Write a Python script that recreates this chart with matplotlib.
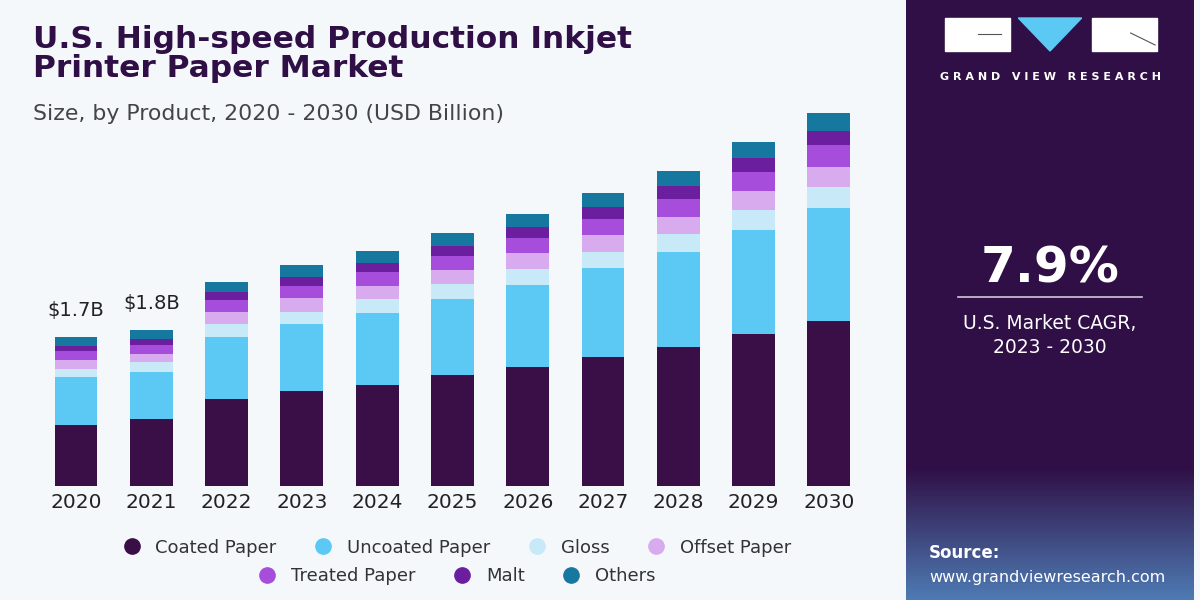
"""U.S. high-speed production inkjet printer paper market, stacked bars by product."""
import numpy as np
import matplotlib
matplotlib.use("Agg")
import matplotlib.pyplot as plt
from matplotlib.lines import Line2D
from matplotlib.patches import Rectangle, Polygon

YEARS = ["2020", "2021", "2022", "2023", "2024", "2025", "2026", "2027", "2028", "2029", "2030"]

# USD billion
COATED = [0.70, 0.76, 0.99, 1.08, 1.15, 1.27, 1.36, 1.47, 1.59, 1.74, 1.88]
UNCOATED = [0.54, 0.54, 0.71, 0.77, 0.82, 0.87, 0.94, 1.02, 1.08, 1.18, 1.29]
GLOSS = [0.10, 0.11, 0.15, 0.14, 0.16, 0.17, 0.18, 0.18, 0.21, 0.23, 0.24]
OFFSET = [0.10, 0.10, 0.14, 0.16, 0.15, 0.16, 0.18, 0.19, 0.19, 0.22, 0.23]
TREATED = [0.10, 0.10, 0.13, 0.13, 0.16, 0.16, 0.17, 0.19, 0.21, 0.22, 0.25]
MALT = [0.06, 0.07, 0.10, 0.11, 0.11, 0.11, 0.13, 0.14, 0.15, 0.16, 0.16]
OTHERS = [0.10, 0.10, 0.11, 0.13, 0.13, 0.15, 0.15, 0.16, 0.17, 0.18, 0.21]

SEGMENTS = [
    ("Coated Paper", COATED, "#3a0f47"),
    ("Uncoated Paper", UNCOATED, "#5cc8f4"),
    ("Gloss", GLOSS, "#c8e9f8"),
    ("Offset Paper", OFFSET, "#d8aaee"),
    ("Treated Paper", TREATED, "#a74ddc"),
    ("Malt", MALT, "#6b1f9e"),
    ("Others", OTHERS, "#16789e"),
]

VALUE_LABELS = {0: "$1.7B", 1: "$1.8B"}

BG = "#f4f8fb"
DARK = "#2f0f45"

fig = plt.figure(figsize=(12, 6), dpi=100)
fig.patch.set_facecolor(BG)

ax = fig.add_axes([0.0257, 0.19, 0.7027, 0.657])
ax.set_facecolor(BG)
x = np.arange(len(YEARS))
bottom = np.zeros(len(YEARS))
for name, vals, color in SEGMENTS:
    ax.bar(x, vals, width=0.57, bottom=bottom, color=color, linewidth=0)
    bottom += np.array(vals)

for i, txt in VALUE_LABELS.items():
    ax.text(x[i], bottom[i] + 0.2, txt, ha="center", va="bottom",
            fontsize=14, color="#222222")

ax.set_xlim(-0.6, len(YEARS) - 0.4)
ax.set_ylim(0, 4.5)
ax.set_xticks(x)
ax.set_xticklabels(YEARS, fontsize=14.5, color="#222222")
ax.tick_params(axis="x", length=0, pad=5)
ax.set_yticks([])
for sp in ax.spines.values():
    sp.set_visible(False)

# titles
fig.text(0.0275, 0.958, "U.S. High-speed Production Inkjet\nPrinter Paper Market",
         fontsize=22.5, fontweight="bold", color=DARK, va="top", ha="left",
         linespacing=1.0)
fig.text(0.0275, 0.81, "Size, by Product, 2020 - 2030 (USD Billion)",
         fontsize=15.8, color="#444444", va="center", ha="left")

# legend: two centred rows
def row_handles(items):
    return [Line2D([], [], marker="o", ls="", markersize=11,
                   markerfacecolor=c, markeredgecolor=c, label=n) for n, _, c in items]

kw = dict(frameon=False, fontsize=13, handletextpad=0.3, columnspacing=1.6,
          labelcolor="#333333")
leg1 = fig.legend(handles=row_handles(SEGMENTS[:4]), ncol=4, loc="center",
                  bbox_to_anchor=(0.377, 0.087), **kw)
leg2 = fig.legend(handles=row_handles(SEGMENTS[4:]), ncol=3, loc="center",
                  bbox_to_anchor=(0.377, 0.04), **kw)

# right side panel
panel = fig.add_axes([0.755, 0.0, 0.24, 1.0])
panel.set_xlim(0, 1)
panel.set_ylim(0, 1)
panel.axis("off")
panel.imshow(np.ones((200, 1)), extent=(0, 1, 0, 1), aspect="auto",
             cmap=matplotlib.colors.ListedColormap([DARK]), zorder=0)
fade = np.clip((0.22 - np.linspace(0, 1, 200)) / 0.22, 0, 1)[:, None]
rgba = np.zeros((200, 1, 4))
rgba[..., 0] = 0.35
rgba[..., 1] = 0.62
rgba[..., 2] = 0.85
rgba[..., 3] = fade * 0.75
panel.imshow(rgba, extent=(0, 1, 0, 1), aspect="auto", origin="lower", zorder=1)

# logo
panel.add_patch(Rectangle((0.135, 0.915), 0.225, 0.055, color="white", zorder=2))
panel.plot([0.25, 0.33], [0.943, 0.943], color="#555555", lw=0.8, zorder=3)
panel.add_patch(Polygon([[0.39, 0.97], [0.61, 0.97], [0.50, 0.915]],
                        closed=True, color="#5cc8f4", zorder=2))
panel.add_patch(Rectangle((0.645, 0.915), 0.225, 0.055, color="white", zorder=2))
panel.plot([0.78, 0.865], [0.945, 0.925], color="#555555", lw=0.8, zorder=3)
panel.text(0.5, 0.872, "G R A N D   V I E W   R E S E A R C H", ha="center", va="center",
           fontsize=8, fontweight="bold", color="white", zorder=3)

panel.text(0.5, 0.553, "7.9%", ha="center", va="center", fontsize=36,
           fontweight="bold", color="white", zorder=3)
panel.plot([0.18, 0.82], [0.505, 0.505], color="#d0c8dc", lw=1.2, zorder=3)
panel.text(0.5, 0.476, "U.S. Market CAGR,\n2023 - 2030", ha="center", va="top",
           fontsize=13.5, color="white", linespacing=1.3, zorder=3)

panel.text(0.08, 0.078, "Source:", ha="left", va="center", fontsize=12,
           fontweight="bold", color="white", zorder=3)
panel.text(0.08, 0.038, "www.grandviewresearch.com", ha="left", va="center",
           fontsize=11.5, color="white", zorder=3)

fig.savefig("out.png", dpi=100, facecolor=fig.get_facecolor())
